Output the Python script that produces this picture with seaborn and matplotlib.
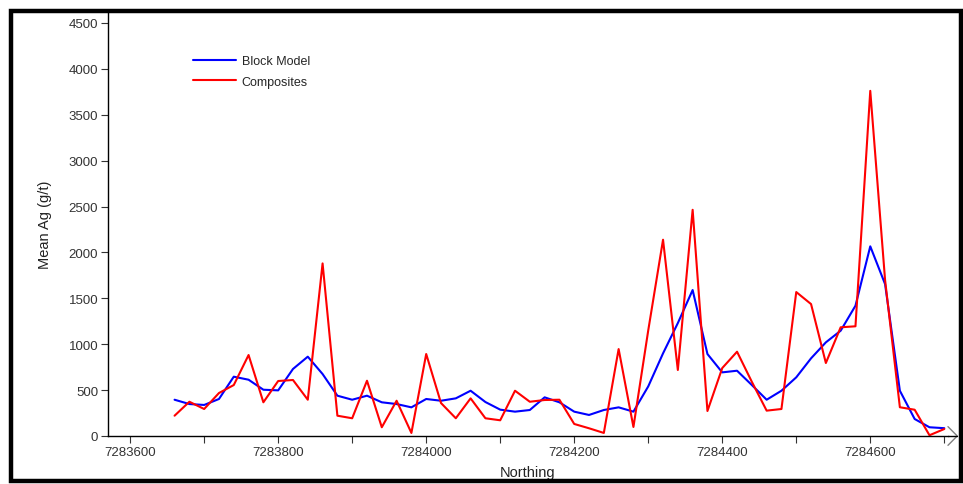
import numpy as np
import pandas as pd
import matplotlib
matplotlib.use('Agg')
import matplotlib.pyplot as plt
from matplotlib.lines import Line2D
from matplotlib.patches import Rectangle
import seaborn as sns

# northing positions, 20 m spacing
northing = list(range(7283660, 7284701, 20))

block_model = [395, 348, 338, 403, 646, 613, 504, 497, 730, 864,
               675, 439, 395, 439, 367, 348, 312, 403, 384, 410,
               493, 370, 287, 265, 283, 421, 367, 265, 229, 283,
               312, 265, 540, 900, 1230, 1590, 893, 693, 711, 555,
               395, 493, 639, 846, 1020, 1147, 1419, 2066, 1655, 493,
               185, 95, 85]

composites = [221, 373, 294, 468, 555, 882, 367, 599, 610, 395,
              1880, 221, 193, 602, 95, 384, 33, 893, 359, 193,
              410, 193, 171, 493, 373, 392, 395, 131, 84, 33,
              947, 98, 1150, 2138, 719, 2464, 272, 740, 918, 590,
              276, 294, 1568, 1437, 795, 1184, 1195, 3760, 1700, 313,
              286, 8, 76]

series_names = ['Block Model', 'Composites']
series_colors = ['#0000ff', '#ff0000']

df = pd.DataFrame({
    'Northing': northing * 2,
    'Mean': block_model + composites,
    'Series': [series_names[0]] * len(northing) + [series_names[1]] * len(northing),
})

sns.set_style('white')
plt.rcParams['font.family'] = ['Liberation Sans', 'DejaVu Sans']

fig = plt.figure(figsize=(9.63, 4.85), dpi=100)
ax = fig.add_axes([0.1121, 0.0990, 0.9844 - 0.1121, 0.9753 - 0.0990])

sns.lineplot(data=df, x='Northing', y='Mean', hue='Series',
             palette=dict(zip(series_names, series_colors)),
             linewidth=1.5, legend=False, ax=ax)

ax.set_xlim(7283570, 7284705)
ax.set_ylim(0, 4630)
ax.set_yticks(np.arange(0, 4501, 500))
ax.set_xticks(np.arange(7283600, 7284701, 100))
ax.set_xticklabels([str(v) if (v - 7283600) % 200 == 0 else ''
                    for v in range(7283600, 7284701, 100)])

for s in ['top', 'right']:
    ax.spines[s].set_visible(False)
for s in ['left', 'bottom']:
    ax.spines[s].set_color('black')
    ax.spines[s].set_linewidth(1.0)

ax.tick_params(axis='both', which='both', direction='out', length=5,
               width=0.8, color='#333333', labelsize=9.5,
               labelcolor='#333333', pad=2, left=True, bottom=True)

ax.set_xlabel('Northing', fontsize=10.5, color='#222222', labelpad=5)
ax.set_ylabel('Mean Ag (g/t)', fontsize=10.5, color='#222222', labelpad=12)

handles = [Line2D([0], [0], color=c, lw=1.5) for c in series_colors]
ax.legend(handles, series_names, loc='upper left',
          bbox_to_anchor=(0.088, 0.922), frameon=False, fontsize=9,
          handlelength=3.4, handletextpad=0.5, labelspacing=0.65)

# arrow head at the end of the x axis
ax.plot([1.0, 1.011, 1.0], [0.022, 0.0, -0.022], transform=ax.transAxes,
        color='#808080', lw=1.0, clip_on=False)
ax.plot([1.0, 1.011], [0.0, 0.0], transform=ax.transAxes,
        color='black', lw=1.0, clip_on=False)

# outer frame
fig.patches.append(Rectangle((0.011, 0.006), 0.987, 0.97, transform=fig.transFigure,
                             fill=False, edgecolor='black', linewidth=3.2))

fig.savefig('out.png', dpi=100, facecolor='white')
